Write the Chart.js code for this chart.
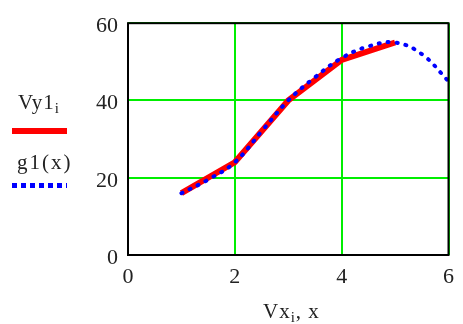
<!DOCTYPE html>
<html>
<head>
<meta charset="utf-8">
<script src="https://cdn.jsdelivr.net/npm/chart.js@4/dist/chart.umd.min.js"></script>
<style>
  body { margin: 0; background: #fff; }
  #wrap { position: relative; width: 463px; height: 324px; font-family: "Liberation Serif", "Times New Roman", serif; color: #222; }
  canvas { position: absolute; left: 0; top: 0; }
  .lbl { position: absolute; font-size: 21px; white-space: nowrap; line-height: 1; letter-spacing: 1px; }
  .lbl sub { font-size: 15px; vertical-align: -4px; }
  .key { position: absolute; left: 12px; width: 55px; }
</style>
</head>
<body>
<div id="wrap">
  <canvas id="chart" width="463" height="324"></canvas>
  <div class="lbl" style="left:18px; top:92px;">Vy1<sub>i</sub></div>
  <div class="key" style="top:128px; height:6px; background:#ff0000;"></div>
  <div class="lbl" style="left:17px; top:152px; letter-spacing:2px;">g1(x)</div>
  <div class="key" style="top:183px; height:5px; background:repeating-linear-gradient(90deg,#0000ff 0 5px,transparent 5px 9px);"></div>
  <div class="lbl" style="left:263px; top:301px;">Vx<sub>i</sub>, x</div>
</div>
<script>
// measured points Vx, Vy1
const vx = [1, 2, 3, 4, 5];
const vy1 = [16, 24, 40, 50.5, 55];

// fitted curve g1(x)
const gx = [1, 1.5, 2, 2.5, 3, 3.5, 4, 4.5, 5, 5.5, 6];
const gy = [16, 19.5, 24, 32, 40, 46, 51, 54, 55, 52, 45];

const xTicks = [0, 2, 4, 6];
const yTicks = [0, 20, 40, 60];

// frame around the plot area
const frame = {
    id: 'frame',
    afterDraw(chart) {
        const a = chart.chartArea;
        const ctx = chart.ctx;
        ctx.save();
        ctx.strokeStyle = '#000';
        ctx.lineWidth = 2;
        ctx.strokeRect(a.left, a.top, a.right - a.left, a.bottom - a.top);
        ctx.restore();
    }
};

new Chart(document.getElementById('chart'), {
    type: 'line',
    data: {
        datasets: [
            {
                label: 'g1(x)',
                data: gx.map((x, i) => ({ x: x, y: gy[i] })),
                borderColor: '#0000ff',
                borderWidth: 4,
                borderDash: [1, 8],
                borderCapStyle: 'round',
                tension: 0.4,
                pointRadius: 0,
                order: 0
            },
            {
                label: 'Vy1',
                data: vx.map((x, i) => ({ x: x, y: vy1[i] })),
                borderColor: '#ff0000',
                borderWidth: 6,
                tension: 0,
                pointRadius: 0,
                order: 1
            }
        ]
    },
    plugins: [frame],
    options: {
        responsive: false,
        animation: false,
        layout: { padding: { left: 0, right: 11, top: 20, bottom: 0 } },
        plugins: { legend: { display: false }, tooltip: { enabled: false } },
        scales: {
            x: {
                type: 'linear',
                min: 0,
                max: 6,
                afterBuildTicks: s => { s.ticks = xTicks.map(v => ({ value: v })); },
                afterFit: s => { s.height = 69; },
                grid: { color: '#00ee00', lineWidth: 2, drawTicks: false },
                border: { display: false },
                ticks: { color: '#222', padding: 9, font: { family: 'Liberation Serif', size: 22 } }
            },
            y: {
                min: 0,
                max: 60,
                afterBuildTicks: s => { s.ticks = yTicks.map(v => ({ value: v })); },
                afterFit: s => { s.width = 128; },
                grid: { color: '#00ee00', lineWidth: 2, drawTicks: false },
                border: { display: false },
                ticks: { color: '#222', padding: 10, labelOffset: 3, font: { family: 'Liberation Serif', size: 22 } }
            }
        }
    }
});
</script>
</body>
</html>
